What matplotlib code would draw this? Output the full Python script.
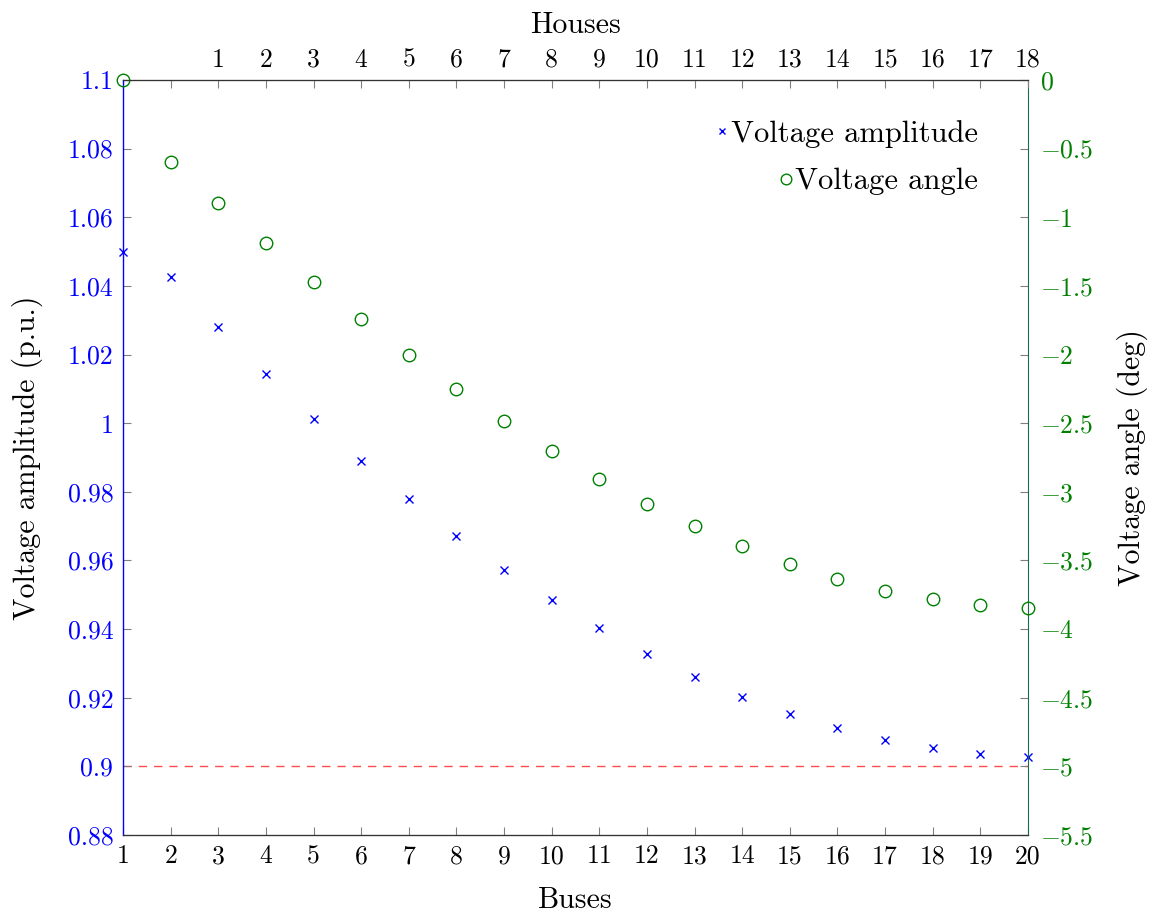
import matplotlib
matplotlib.use("Agg")
import matplotlib.pyplot as plt

plt.rcParams['font.family'] = 'serif'
plt.rcParams['font.serif'] = ['cmr10']
plt.rcParams['mathtext.fontset'] = 'cm'
plt.rcParams['axes.formatter.use_mathtext'] = True

buses = list(range(1, 21))
amplitude = [1.050, 1.0426, 1.028, 1.0143, 1.0012, 0.989, 0.9779, 0.9671, 0.9572, 0.9485,
             0.9403, 0.9327, 0.926, 0.9202, 0.9153, 0.9112, 0.9077, 0.9054, 0.9036, 0.9027]
angle = [0.0, -0.597, -0.896, -1.187, -1.471, -1.741, -2.003, -2.251, -2.484, -2.703,
         -2.907, -3.089, -3.249, -3.395, -3.526, -3.635, -3.723, -3.781, -3.825, -3.846]
limit = 0.9
left_ticks = [0.88, 0.90, 0.92, 0.94, 0.96, 0.98, 1.00, 1.02, 1.04, 1.06, 1.08, 1.10]
left_labels = ['0.88', '0.9', '0.92', '0.94', '0.96', '0.98', '1', '1.02', '1.04', '1.06', '1.08', '1.1']
right_ticks = [0, -0.5, -1, -1.5, -2, -2.5, -3, -3.5, -4, -4.5, -5, -5.5]
right_labels = ['$0$', '$-0.5$', '$-1$', '$-1.5$', '$-2$', '$-2.5$', '$-3$', '$-3.5$', '$-4$', '$-4.5$', '$-5$', '$-5.5$']
house_ticks = list(range(3, 21))
house_labels = [str(i) for i in range(1, 19)]

BLUE = '#0000ff'
GREEN = '#008000'
FS = 18.5
LFS = 21.5

fig = plt.figure(figsize=(11.54, 9.13), dpi=100)
ax = fig.add_axes([0.1066, 0.0854, 0.7842, 0.8270])
ax2 = ax.twinx()
ax3 = ax.twiny()

ax.axhline(limit, color='#ff4d4d', lw=1.0, dashes=(6, 5), zorder=1)
l1, = ax.plot(buses, amplitude, linestyle='none', marker='x', color=BLUE, ms=5.5, mew=1.0,
              label='Voltage amplitude', clip_on=False, zorder=3)
l2, = ax2.plot(buses, angle, linestyle='none', marker='o', mfc='none', mec=GREEN, ms=9, mew=1.0,
               label='Voltage angle', clip_on=False, zorder=3)

ax.set_xlim(1, 20)
ax.set_ylim(0.88, 1.10)
ax2.set_ylim(-5.5, 0)
ax3.set_xlim(1, 20)

ax.set_xticks(buses)
ax.set_xticklabels([str(b) for b in buses], fontsize=FS)
ax.set_yticks(left_ticks)
ax.set_yticklabels(left_labels, fontsize=FS, color=BLUE)
ax2.set_yticks(right_ticks)
ax2.set_yticklabels(right_labels, fontsize=FS, color=GREEN)
ax3.set_xticks([2] + house_ticks)
ax3.set_xticklabels([''] + house_labels, fontsize=FS)

for a in (ax, ax2, ax3):
    a.tick_params(direction='in', length=6, width=0.8, color='#808080', pad=6)
ax.tick_params(axis='x', pad=7)
ax.tick_params(axis='y', pad=7)
ax2.tick_params(axis='y', pad=9)

ax.spines['left'].set_color(BLUE)
ax.spines['left'].set_linewidth(1.0)
ax2.spines['left'].set_visible(False)
ax3.spines['left'].set_visible(False)
ax2.spines['right'].set_color('#1b6b4b')
ax3.spines['right'].set_visible(False)
ax.spines['right'].set_visible(False)
for a in (ax, ax2, ax3):
    a.spines['top'].set_color('#333333')
    a.spines['bottom'].set_color('#333333')

ax.set_xlabel('Buses', fontsize=LFS, labelpad=13)
ax.set_ylabel('Voltage amplitude (p.u.)', fontsize=LFS, labelpad=18)
ax2.set_ylabel('Voltage angle (deg)', fontsize=LFS, labelpad=16)
ax3.set_xlabel('Houses', fontsize=LFS, labelpad=11)

common = dict(loc='upper right', frameon=False, fontsize=22, handlelength=0.4,
              handletextpad=0.1, borderaxespad=0, borderpad=0, markerscale=0.85)
leg1 = ax2.legend(handles=[l1], bbox_to_anchor=(0.9448, 0.947), **common)
ax2.add_artist(leg1)
leg2 = ax2.legend(handles=[l2], bbox_to_anchor=(0.9448, 0.8834), **common)

fig.savefig('out.png', dpi=100)
